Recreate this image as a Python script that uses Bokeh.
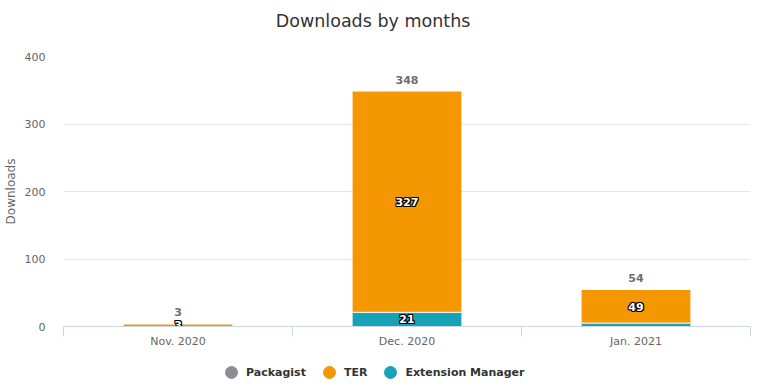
import math
from bokeh.plotting import figure
from bokeh.layouts import column
from bokeh.models import (Range1d, FixedTicker, Legend, LegendItem, Label,
                          ColumnDataSource, LinearAxis)
from bokeh.core.properties import value
from bokeh.embed import file_html
from bokeh.resources import INLINE

# ---- data ----
months = ["Nov. 2020", "Dec. 2020", "Jan. 2021"]
series_names = ["Packagist", "TER", "Extension Manager"]
packagist = [0, 0, 0]
ter = [3, 327, 49]
ext_manager = [0, 21, 5]
y_ticks = [0, 100, 200, 300, 400]
colors = ["#8a8e93", "#f49700", "#17a2b8"]
hidden_labels = [("Extension Manager", "Jan. 2021")]
title_text = "Downloads by months"

FONT = "DejaVu Sans"
W = 767
LEFT, RIGHT = 62, 17
FRAME_W = W - LEFT - RIGHT
TOP_H = 44
MAIN_TOP, FRAME_H, MAIN_BOTTOM = 12, 270, 30
MAIN_H = MAIN_TOP + FRAME_H + MAIN_BOTTOM
LEG_H = 387 - TOP_H - MAIN_H
BAR_W = 0.475
n = len(months)
centers = [i + 0.5 for i in range(n)]
bounds = list(range(n + 1))


def blank_fig(h):
    f = figure(width=W, height=h, output_backend="svg", toolbar_location=None,
               x_range=Range1d(0, FRAME_W), y_range=Range1d(0, h),
               x_axis_location=None, y_axis_location=None,
               min_border=0, min_border_left=LEFT, min_border_right=RIGHT,
               min_border_top=0, min_border_bottom=0)
    f.outline_line_color = None
    f.grid.visible = False
    return f


# ---- title ----
top = blank_fig(TOP_H)
top.add_layout(Label(x=310, y=TOP_H - 20, text=title_text, text_align="center",
                     text_baseline="middle", text_font=FONT, text_font_size="17.5px",
                     text_color="#333333"))

# ---- main chart ----
p = figure(width=W, height=MAIN_H, output_backend="svg", toolbar_location=None,
           x_range=Range1d(0, n), y_range=Range1d(y_ticks[0], y_ticks[-1]),
           x_axis_location=None,
           min_border_left=LEFT, min_border_right=RIGHT, min_border_top=MAIN_TOP,
           min_border_bottom=MAIN_BOTTOM)
p.outline_line_color = None

src = ColumnDataSource(dict(x=centers, em=ext_manager, ter=ter, pkg=packagist))
p.vbar_stack(["em", "ter", "pkg"], x="x", width=BAR_W, source=src,
             fill_color=[colors[2], colors[1], colors[0]], line_color=None)

# white separators between stacked non-empty segments
stack_order = [("Extension Manager", ext_manager), ("TER", ter), ("Packagist", packagist)]
sx0, sx1, sy = [], [], []
lx, ly, lt = [], [], []
cum = [0] * n
for name, vals in stack_order:
    for i, v in enumerate(vals):
        if v > 0 and cum[i] > 0:
            sx0.append(centers[i] - BAR_W / 2)
            sx1.append(centers[i] + BAR_W / 2)
            sy.append(cum[i])
        if v > 0 and (name, months[i]) not in hidden_labels:
            lx.append(centers[i])
            ly.append(cum[i] + v / 2)
            lt.append(str(v))
        cum[i] += v
p.segment(x0=sx0, y0=sy, x1=sx1, y1=sy, line_color="white", line_width=1)

# data labels: white bold text with dark outline
for dx, dy in [(-1, -1), (0, -1), (1, -1), (-1, 0), (1, 0), (-1, 1), (0, 1), (1, 1)]:
    p.text(x=lx, y=ly, text=lt, x_offset=dx, y_offset=dy, text_color="black",
           text_font=value(FONT), text_font_style="bold", text_font_size="11px",
           text_align="center", text_baseline="middle")
p.text(x=lx, y=ly, text=lt, text_color="white",
       text_font=value(FONT), text_font_style="bold", text_font_size="11px",
       text_align="center", text_baseline="middle")

# stack totals
totals = [a + b + c for a, b, c in zip(packagist, ter, ext_manager)]
p.text(x=centers, y=totals, text=[str(t) for t in totals], y_offset=-12,
       text_color="#6e6e6e", text_font=value(FONT), text_font_style="bold",
       text_font_size="11px", text_align="center", text_baseline="middle")

# y axis
yax = p.yaxis[0]
yax.ticker = FixedTicker(ticks=y_ticks)
yax.axis_line_color = None
yax.major_tick_line_color = None
yax.minor_tick_line_color = None
yax.major_label_standoff = 12
yax.major_label_text_color = "#666666"
yax.major_label_text_font = FONT
yax.major_label_text_font_size = "11px"
yax.axis_label = "Downloads"
yax.axis_label_text_font = FONT
yax.axis_label_text_font_size = "12px"
yax.axis_label_text_font_style = "normal"
yax.axis_label_text_color = "#666666"
yax.axis_label_standoff = 4
p.ygrid.grid_line_color = "#e6e6e6"
p.xgrid.visible = False

# x axis: labels at centres, ticks at category boundaries
xax = LinearAxis(ticker=FixedTicker(ticks=centers, minor_ticks=bounds),
                 major_label_overrides={c: m for c, m in zip(centers, months)})
xax.axis_line_color = "#ccd6eb"
xax.major_tick_line_color = None
xax.major_tick_out = 0
xax.major_tick_in = 0
xax.minor_tick_line_color = "#ccd6eb"
xax.minor_tick_in = 0
xax.minor_tick_out = 10
xax.major_label_standoff = -2
xax.major_label_text_color = "#666666"
xax.major_label_text_font = FONT
xax.major_label_text_font_size = "11px"
p.add_layout(xax, "below")

# ---- legend ----
leg = blank_fig(LEG_H)
items = []
for name, col in zip(series_names, colors):
    r = leg.scatter(x=[math.nan], y=[math.nan], marker="circle", size=12,
                    fill_color=col, line_color=col)
    items.append(LegendItem(label=name, renderers=[r]))
legend = Legend(items=items, orientation="horizontal", location=(153, 0),
                glyph_width=30, glyph_height=30, label_standoff=0, spacing=8,
                padding=0, margin=0, border_line_color=None,
                background_fill_alpha=0,
                label_text_font=FONT, label_text_font_style="bold",
                label_text_font_size="11px", label_text_color="#333333")
leg.add_layout(legend)

layout = column(top, p, leg, spacing=0)
open("out.html", "w").write(file_html(layout, INLINE))
